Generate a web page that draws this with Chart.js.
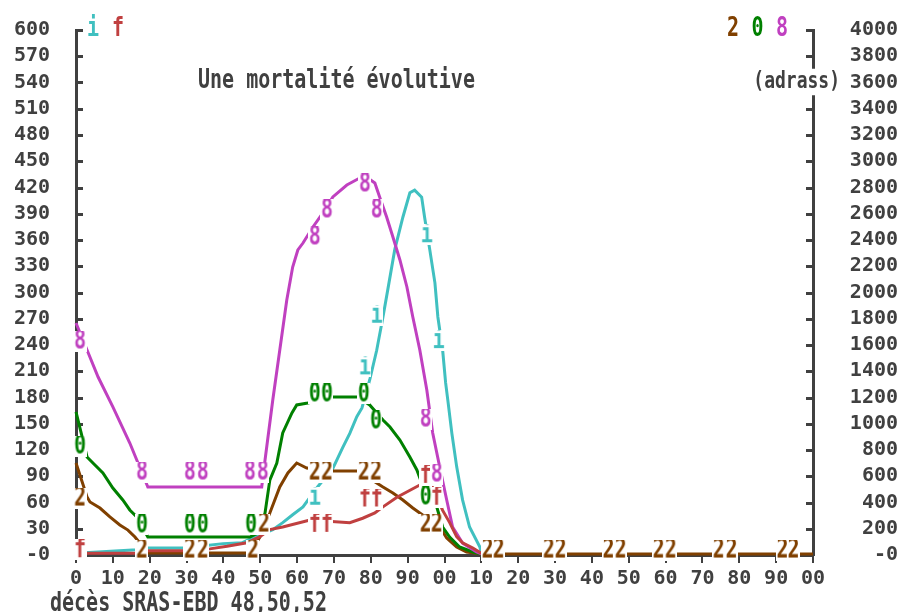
<!DOCTYPE html>
<html><head><meta charset="utf-8">
<script src="https://cdn.jsdelivr.net/npm/chart.js@4"></script>
<style>html,body{margin:0;padding:0;background:#fff}</style>
</head><body>
<canvas id="c" width="901" height="612"></canvas>
<script>
// ---------- text ----------
const chartTitle = 'Une mortalité évolutive';
const xAxisTitle = 'décès SRAS-EBD 48,50,52';
const rightAxisTitle = '(adrass)';
const leftLegend = ['i', 'f'];
const rightLegend = ['2', '0', '8'];

// ---------- axes ----------
const xMin = 0, xMax = 200, xStep = 10;
const leftMin = 0, leftMax = 600, leftStep = 30;
const rightMin = 0, rightMax = 4000, rightStep = 200;

// ---------- series "i" (left axis) ----------
const cyanX = [0,16.5,19.5,30.1,33.6,39.9,45.0,46.6,53.4,56.1,58.8,61.6,65.6,69.7,72.4,74.3,76.2,77.6,79.7,81.6,83.3,84.6,86.5,88.7,90.6,91.9,93.8,94.6,96.0,97.4,98.2,99.5,100.3,100.9,102.0,103.3,104.9,106.8,109.6,110];
const cyanY = [2,6,8,8,10,13,14,17,29,37,46,55,78,99,123,139,158,168,200,234,272,303,349,386,414,417,409,386,349,311,272,234,197,177,139,101,63,32,9,2];
const cyanMkX = [64.8,78.4,81.6,95.2,98.4];
const cyanMkY = [66,215,274,366,245];

// ---------- series "f" (left axis) ----------
const redX = [0,2.7,16.5,19.5,30.1,36.3,41.0,46.4,49.9,52.6,56.1,63.5,74.3,77.8,81.1,83.3,87.1,93.3,96.8,99.5,101.4,103.3,104.9,107.7,110];
const redY = [2,2,2,5,5,7,10,14,21,29,32,40,37,42,48,55,66,80,77,51,37,21,14,8,2];
const redMkX = [1.1,64.8,68.1,78.4,81.6,94.9,97.9];
const redMkY = [6,35,35,64,64,91,66];

// ---------- series "2" (right axis) ----------
const brownX = [0,3.0,3.8,6.5,9.2,11.9,14.1,16.0,19.5,47.2,49.9,52.6,55.3,57.5,59.9,62.6,69.7,76.5,83.3,86.0,88.7,91.4,93.3,98.7,100.6,103.3,106.0,110,200];
const brownY = [701,442,404,358,290,229,190,137,15,15,137,320,518,625,701,663,640,640,518,472,419,358,320,213,130,61,23,8,8];
const brownMkX = [1.1,17.9,30.9,34.4,48.0,51.0,64.8,68.1,78.1,81.4,94.9,97.9,111.7,114.7,128.3,131.5,144.5,147.8,158.1,161.4,174.4,177.9,191.7,194.7];
const brownMkY = [434,38,38,38,38,236,632,632,632,632,236,236,38,38,38,38,38,38,38,38,38,38,38,38];

// ---------- series "0" (right axis) ----------
const greenX = [0,3.0,4.6,7.3,10.0,12.7,14.6,16.5,19.5,47.2,49.4,51.3,52.6,54.5,56.1,58.6,59.9,62.9,69.7,76.5,79.7,83.3,85.2,87.9,90.6,92.5,93.8,97.9,99.5,101.4,104.1,107.7,110];
const greenY = [1090,747,701,625,510,419,343,290,137,137,168,320,571,701,930,1082,1143,1158,1204,1204,1143,1029,975,876,747,648,549,366,213,137,61,23,8];
const greenMkX = [1.1,17.9,30.9,34.4,47.5,64.8,68.1,78.1,81.4,94.9];
const greenMkY = [830,229,229,229,229,1227,1227,1227,1021,442];

// ---------- series "8" (right axis) ----------
const magX = [0,3.0,6.0,10.0,14.6,19.5,50.4,51.3,53.4,55.3,57.2,58.8,60.2,61.6,64.3,67.0,69.7,73.5,77.0,78.4,81.1,82.4,84.3,86.0,87.9,89.8,91.4,93.3,95.2,96.8,98.7,100.6,102.2,104.9,108.7,110];
const magY = [1768,1562,1356,1128,853,518,518,724,1181,1562,1943,2194,2324,2377,2499,2606,2728,2819,2872,2888,2834,2728,2575,2423,2248,2042,1813,1562,1257,930,670,419,213,91,23,8];
const magMkX = [1.1,17.9,30.9,34.4,47.2,50.7,64.8,68.1,78.4,81.6,94.9,97.9];
const magMkY = [1630,632,632,632,632,632,2423,2629,2827,2629,1036,617];

// ---------- styles ----------
const GREY = '#404040';
const COL = { i: '#40C0C0', f: '#C04040', '2': '#804000', '0': '#008000', '8': '#C040C0' };
const FAMILY = '"DejaVu Sans Mono", monospace';
const STRETCH = 1.3;

function pts(xs, ys) { return xs.map((x, k) => ({ x: x, y: ys[k] })); }

function markerCanvas(ch, color) {
  const c = document.createElement('canvas');
  c.width = 13; c.height = 21;
  const g = c.getContext('2d');
  g.fillStyle = '#fff'; g.fillRect(0, 0, 13, 21);
  g.translate(6.5, 11); g.scale(1, STRETCH);
  g.font = 'bold 20px ' + FAMILY;
  g.textAlign = 'center'; g.textBaseline = 'middle';
  g.fillStyle = color; g.fillText(ch, 0, 0);
  return c;
}

function lineDs(label, xs, ys, axis) {
  return { type: 'line', label: label, data: pts(xs, ys), yAxisID: axis,
    borderColor: COL[label], borderWidth: 3, pointRadius: 0, tension: 0, fill: false, clip: false };
}
function markDs(label, xs, ys, axis) {
  return { type: 'scatter', label: label + ' markers', data: pts(xs, ys), yAxisID: axis,
    showLine: false, pointStyle: markerCanvas(label, COL[label]), pointRadius: 6, clip: false };
}

function stretchedText(ctx, text, x, y, align, color, size, sy, bg) {
  ctx.save();
  ctx.font = 'bold ' + size + 'px ' + FAMILY;
  ctx.textAlign = align; ctx.textBaseline = 'middle';
  if (bg) {
    const w = ctx.measureText(text).width;
    const x0 = align === 'right' ? x - w : (align === 'center' ? x - w / 2 : x);
    ctx.fillStyle = '#fff';
    ctx.fillRect(x0 - 1, y - size * sy / 2 - 2, w + 2, size * sy + 4);
  }
  ctx.translate(x, y); ctx.scale(1, sy);
  ctx.fillStyle = color; ctx.fillText(text, 0, 0);
  ctx.restore();
}

const decor = {
  id: 'decor',
  beforeDatasetsDraw(chart) {
    const ctx = chart.ctx, a = chart.chartArea;
    ctx.save();
    ctx.strokeStyle = GREY; ctx.lineWidth = 3;
    const yl = chart.scales.y, yr = chart.scales.y2;
    yl.ticks.forEach(t => { const p = Math.round(yl.getPixelForValue(t.value)) + 0.5;
      ctx.beginPath(); ctx.moveTo(a.left, p); ctx.lineTo(a.left + 7, p); ctx.stroke(); });
    yr.ticks.forEach(t => { const p = Math.round(yr.getPixelForValue(t.value)) + 0.5;
      ctx.beginPath(); ctx.moveTo(a.right - 7, p); ctx.lineTo(a.right, p); ctx.stroke(); });
    ctx.restore();
  },
  afterDraw(chart) {
    const ctx = chart.ctx;
    stretchedText(ctx, chartTitle, 198, 81, 'left', GREY, 20, STRETCH, false);
    stretchedText(ctx, rightAxisTitle, 840, 82, 'right', GREY, 18, 1.25, true);
    stretchedText(ctx, xAxisTitle, 50, 604, 'left', GREY, 20, STRETCH, false);
    leftLegend.forEach((s, k) => stretchedText(ctx, s, 93 + k * 25, 29, 'center', COL[s], 20, STRETCH, false));
    rightLegend.forEach((s, k) => stretchedText(ctx, s, 733 + k * 24.5, 29, 'center', COL[s], 20, STRETCH, false));
  }
};

const tickFont = { family: FAMILY, size: 20, weight: 'bold' };
function fixY(w) { return function (s) { s.width = w; s.paddingTop = 10; s.paddingBottom = 10; }; }

new Chart(document.getElementById('c'), {
  data: {
    datasets: [
      markDs('8', magMkX, magMkY, 'y2'),
      markDs('0', greenMkX, greenMkY, 'y2'),
      markDs('2', brownMkX, brownMkY, 'y2'),
      markDs('f', redMkX, redMkY, 'y'),
      markDs('i', cyanMkX, cyanMkY, 'y'),
      lineDs('f', redX, redY, 'y'),
      lineDs('8', magX, magY, 'y2'),
      lineDs('0', greenX, greenY, 'y2'),
      lineDs('2', brownX, brownY, 'y2'),
      lineDs('i', cyanX, cyanY, 'y')
    ]
  },
  options: {
    responsive: false, animation: false, devicePixelRatio: 1, events: [],
    layout: { padding: { top: 30, right: 3, bottom: 0, left: 0 } },
    plugins: { legend: { display: false }, title: { display: false }, tooltip: { enabled: false } },
    scales: {
      x: {
        type: 'linear', min: xMin, max: xMax,
        afterFit(s) { s.height = 57; },
        ticks: { stepSize: xStep, autoSkip: false, maxRotation: 0, minRotation: 0, padding: 4,
          color: GREY, font: tickFont,
          callback: v => v === 0 ? '0' : String(v % 100).padStart(2, '0') },
        grid: { display: true, drawOnChartArea: false, drawTicks: true, tickLength: 8, color: GREY, lineWidth: 2 },
        border: { display: true, color: GREY, width: 3 }
      },
      y: {
        type: 'linear', position: 'left', min: leftMin, max: leftMax,
        afterFit: fixY(76),
        ticks: { stepSize: leftStep, autoSkip: false, padding: 26, color: GREY, font: tickFont,
          callback: v => v === 0 ? '-0' : String(v) },
        grid: { display: false, drawTicks: false, tickLength: 0 },
        border: { display: true, color: GREY, width: 3 }
      },
      y2: {
        type: 'linear', position: 'right', min: rightMin, max: rightMax,
        afterFit: fixY(85),
        ticks: { stepSize: rightStep, autoSkip: false, crossAlign: 'far', padding: 0, color: GREY, font: tickFont,
          callback: v => v === 0 ? '-0' : String(v) },
        grid: { display: false, drawTicks: false, tickLength: 0 },
        border: { display: true, color: GREY, width: 3 }
      }
    }
  },
  plugins: [decor]
});
</script>
</body></html>
